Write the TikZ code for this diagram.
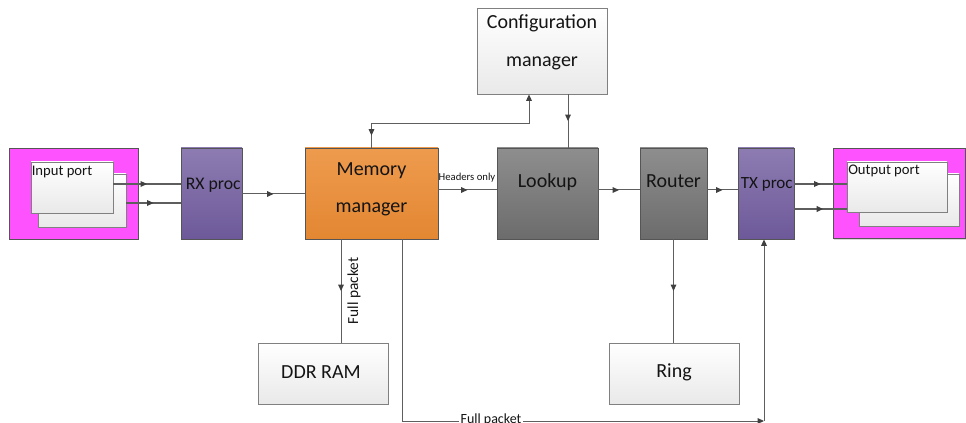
\documentclass[tikz,border=0pt]{standalone}
\usepackage{fontspec}
\setmainfont{Carlito}
\usetikzlibrary{arrows.meta,decorations.markings,shadows}

\definecolor{linecol}{HTML}{5E5E5E}
\definecolor{tipgray}{HTML}{404040}
\definecolor{edgecol}{HTML}{555555}
\definecolor{textcol}{HTML}{141414}
\definecolor{portpink}{HTML}{FF52FF}
\definecolor{purpletop}{HTML}{8D7CB2}
\definecolor{purplebot}{HTML}{6D5999}
\definecolor{orangetop}{HTML}{EE9B4E}
\definecolor{orangebot}{HTML}{E38732}
\definecolor{graytop}{HTML}{8E8E8E}
\definecolor{graybot}{HTML}{6C6C6C}
\definecolor{paletop}{HTML}{FFFFFF}
\definecolor{palebot}{HTML}{E9E9E9}

\begin{document}
\begin{tikzpicture}[x=0.75pt,y=-0.75pt,
  >={Triangle[length=4.8pt,width=4.2pt,color=tipgray]},
  box/.style={draw=edgecol, line width=0.6pt, inner sep=0pt, shape=rectangle,
    drop shadow={shadow xshift=1.1pt,shadow yshift=-1.1pt,fill=black,opacity=0.15}},
  palebox/.style={box, draw=gray, top color=paletop, bottom color=palebot},
  pinkbox/.style={box, fill=portpink},
  purplebox/.style={box, top color=purpletop, bottom color=purplebot},
  orangebox/.style={box, top color=orangetop, bottom color=orangebot},
  graybox/.style={box, top color=graytop, bottom color=graybot},
  txt/.style={text=textcol, inner sep=0pt},
  bigtxt/.style={txt, font=\fontsize{15}{28}\selectfont, align=center},
  porttxt/.style={txt, font=\fontsize{11}{13}\selectfont, anchor=west},
  proctxt/.style={txt, font=\fontsize{13.3}{15}\selectfont, anchor=west},
  conn/.style={draw=linecol, line width=0.75pt},
  portconn/.style={draw=linecol, line width=1.1pt},
  arrowat/.style={postaction={decorate,decoration={markings,
    mark=at position #1 with {\arrow{>}}}}},
  arrowback/.style={postaction={decorate,decoration={markings,
    mark=at position #1 with {\arrowreversed{>}}}}},
]
\useasboundingbox (0,0) rectangle (966,423);

% input port group
\node[pinkbox, minimum width=96.75pt, minimum height=68.25pt] (inpink) at (73.5,193.5) {};
\node[palebox, minimum width=66pt, minimum height=39.75pt] (inback) at (82,200.5) {};
\node[palebox, minimum width=61.5pt, minimum height=38.25pt] (infront) at (72,187.5) {};
\node[porttxt] (intext) at (31.5,172) {Input port};

% processing chain
\node[purplebox, minimum width=45.75pt, minimum height=68.25pt] (rx) at (211.5,193.5) {};
\node[proctxt] (rxtext) at (185.5,185) {RX proc};

\node[orangebox, minimum width=99.75pt, minimum height=68.25pt] (mem) at (371.5,193.5) {};
\node[bigtxt] (memtext) at (371.5,189.5) {Memory\\manager};

\node[graybox, minimum width=75.75pt, minimum height=68.25pt] (lookup) at (547.5,193.5) {};
\node[bigtxt] (lookuptext) at (547.5,182) {Lookup};

\node[graybox, minimum width=50.25pt, minimum height=68.25pt] (router) at (673.5,193.5) {};
\node[bigtxt] (routertext) at (673.5,181) {Router};

\node[purplebox, minimum width=42pt, minimum height=68.25pt] (tx) at (766,193.5) {};
\node[proctxt, font=\fontsize{12.8}{15}\selectfont] (txtext) at (740.5,184) {TX proc};

% output port group
\node[pinkbox, minimum width=99pt, minimum height=67.5pt] (outpink) at (899,193.5) {};
\node[palebox, minimum width=75pt, minimum height=39pt] (outback) at (909,200) {};
\node[palebox, minimum width=75pt, minimum height=37.5pt] (outfront) at (897,187) {};
\node[porttxt] (outtext) at (848,171) {Output port};

% side blocks
\node[palebox, minimum width=97.5pt, minimum height=64.5pt] (config) at (542,51) {};
\node[bigtxt, font=\fontsize{15}{28.5}\selectfont] (configtext) at (542,42.5) {Configuration\\manager};

\node[palebox, minimum width=97.5pt, minimum height=45.75pt] (ddr) at (323,373.5) {};
\node[bigtxt] (ddrtext) at (321,372) {DDR RAM};

\node[palebox, minimum width=97.5pt, minimum height=45.75pt] (ring) at (674,373.5) {};
\node[bigtxt] (ringtext) at (674,372) {Ring};

\coordinate (cfgjoin) at (529,124);
\coordinate (fpcorner) at (764,421);

% data path connectors
\draw[portconn, arrowat=0.5] (infront.east |- 0,184) -- (rx.west |- 0,184);
\draw[portconn, arrowat=0.5] (inback.east |- 0,203) -- (rx.west |- 0,203);
\draw[conn, arrowat=0.5] (rx.east |- 0,194) -- (mem.west |- 0,194);
\draw[conn, arrowat=0.5] (mem.east |- 0,190) -- (lookup.west |- 0,190);
\draw[conn, arrowat=0.5] (lookup.east |- 0,190) -- (router.west |- 0,190);
\draw[conn, arrowat=0.5] (router.east |- 0,190) -- (tx.west |- 0,190);
\draw[portconn, arrowat=0.5] (tx.east |- 0,184) -- (outfront.west |- 0,184);
\draw[portconn, arrowat=0.55] (tx.east |- 0,209) -- (outfront.west |- 0,209);

% control connectors
\draw[conn, ->, arrowback=9pt] (mem.north) |- (cfgjoin) -- (config.south -| cfgjoin);
\draw[conn, arrowat=0.5] (config.south -| 568,0) -- (lookup.north -| 568,0);
\draw[conn, arrowat=0.5] (router.south) -- (ring.north -| router.south);
\draw[conn, arrowat=0.5] (mem.south -| 341,0) -- (ddr.north -| 341,0);
\draw[conn, ->] (mem.south -| 402,0) |- (fpcorner);
\draw[conn, ->] (fpcorner) -- (tx.south -| fpcorner);

% connector labels
\node[txt, font=\fontsize{8}{9}\selectfont] (hdrlabel) at (467,178) {Headers only};
\node[txt, font=\fontsize{11.5}{13}\selectfont, rotate=90] (fplabel) at (354,291) {Full packet};
\node[txt, font=\fontsize{10.5}{12}\selectfont, fill=white, inner xsep=1pt] (fplabel2) at (491,420) {Full packet};
\end{tikzpicture}
\end{document}
